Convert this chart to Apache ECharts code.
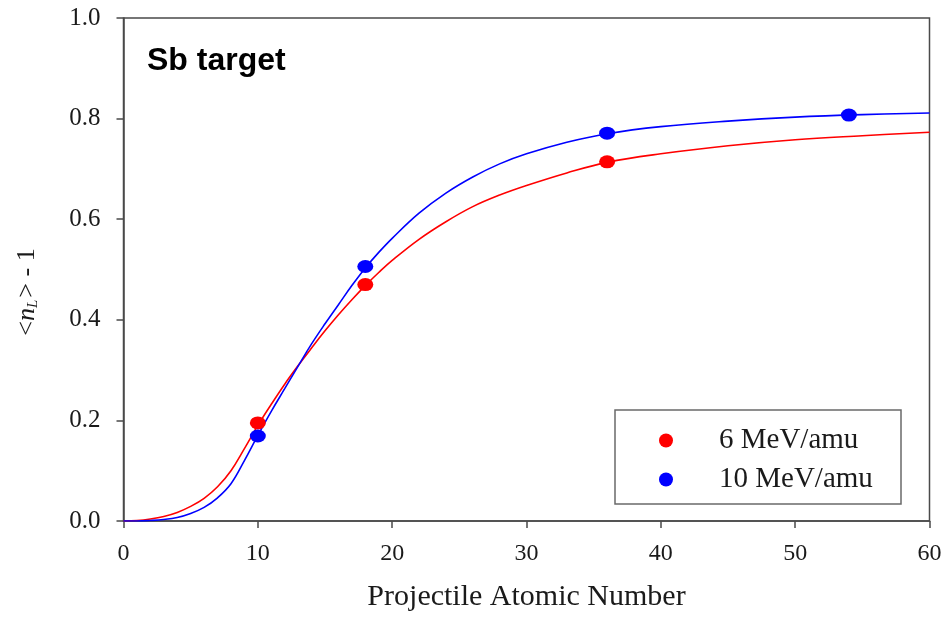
<!DOCTYPE html>
<html>
<head>
<meta charset="utf-8">
<script src="https://cdn.jsdelivr.net/npm/echarts@6/dist/echarts.min.js"></script>
<style>html,body{margin:0;padding:0;background:#fff;}#c{width:946px;height:617px;}</style>
</head>
<body>
<div id="c"></div>
<script>
// Data
var xTicks = [0, 10, 20, 30, 40, 50, 60];
var yTicks = [0.0, 0.2, 0.4, 0.6, 0.8, 1.0];
var seriesNames = ['6 MeV/amu', '10 MeV/amu'];
// measured points
var redZ = [10, 18, 36];
var redY = [0.195, 0.470, 0.714];
var blueZ = [10, 18, 36, 54];
var blueY = [0.169, 0.506, 0.771, 0.807];
// fitted curves
var fitZ = [0, 1, 2, 3, 4, 5, 6, 7, 8, 9, 10, 11, 12, 13, 14, 15, 16, 17, 18, 19, 20, 22, 24, 26, 28, 30, 33, 36, 40, 45, 50, 55, 60];
var redFit = [0, 0.001, 0.004, 0.009, 0.017, 0.029, 0.045, 0.068, 0.100, 0.144, 0.190, 0.232, 0.272, 0.309, 0.344, 0.378, 0.410, 0.440, 0.468, 0.494, 0.518, 0.560, 0.595, 0.625, 0.648, 0.667, 0.692, 0.713, 0.730, 0.746, 0.758, 0.766, 0.773];
var blueFit = [0, 0, 0.001, 0.003, 0.007, 0.015, 0.027, 0.046, 0.074, 0.120, 0.170, 0.218, 0.263, 0.308, 0.352, 0.392, 0.430, 0.468, 0.503, 0.534, 0.562, 0.612, 0.652, 0.684, 0.710, 0.730, 0.753, 0.770, 0.784, 0.795, 0.803, 0.808, 0.811];

function pairs(xs, ys) { return xs.map(function (x, i) { return [x, ys[i]]; }); }

var RED = '#ff0000', BLUE = '#0000ff';
var AX = '#4a4a4a';
var serif = '"Liberation Serif", "Times New Roman", serif';
var ellipse = 'path://M0,1a1,1 0 1,0 2,0a1,1 0 1,0 -2,0z';

var chart = echarts.init(document.getElementById('c'), null, {renderer: 'canvas'});
chart.setOption({
  animation: false,
  backgroundColor: '#fff',
  grid: {left: 123.5, right: 16.5, top: 18, bottom: 95, show: true, borderColor: AX, borderWidth: 1.5, backgroundColor: 'transparent'},
  xAxis: {
    type: 'value', min: xTicks[0], max: xTicks[xTicks.length - 1], interval: 10,
    axisLine: {show: true, lineStyle: {color: AX, width: 1.5}},
    axisTick: {show: true, inside: false, length: 7, lineStyle: {color: AX, width: 1.5}},
    splitLine: {show: false},
    axisLabel: {margin: 21, color: '#1a1a1a', fontFamily: serif, fontSize: 24},
    name: 'Projectile Atomic Number', nameLocation: 'middle', nameGap: 61,
    nameTextStyle: {color: '#1a1a1a', fontFamily: serif, fontSize: 30}
  },
  yAxis: {
    type: 'value', min: yTicks[0], max: yTicks[yTicks.length - 1], interval: 0.2,
    axisLine: {show: true, lineStyle: {color: AX, width: 1.5}},
    axisTick: {show: true, inside: false, length: 7, lineStyle: {color: AX, width: 1.5}},
    splitLine: {show: false},
    axisLabel: {margin: 23, color: '#1a1a1a', fontFamily: serif, fontSize: 25,
      formatter: function (v) { return v.toFixed(1); }}
  },
  legend: {
    data: seriesNames, orient: 'vertical', left: 659, top: 426, padding: 0,
    itemWidth: 16, itemHeight: 14, itemGap: 10, icon: ellipse,
    textStyle: {fontFamily: serif, fontSize: 29, color: '#1a1a1a', padding: [0, 0, 0, 40], lineHeight: 26}
  },
  graphic: [
    {type: 'rect', shape: {x: 615, y: 410, width: 286, height: 94}, style: {fill: '#fff', stroke: '#6a6a6a', lineWidth: 1.5}, z: 0, zlevel: 0, silent: true},
    {type: 'text', x: 147, y: 45, style: {text: 'Sb target', font: 'bold 32px "Liberation Sans", Arial, sans-serif', fill: '#000'}},
    {type: 'text', x: 27, y: 292, rotation: Math.PI / 2,
      style: {
        text: '{a|<}{i|n}{s|L}{a|> - 1}',
        align: 'center', verticalAlign: 'middle',
        rich: {
          a: {fontFamily: serif, fontSize: 26, fill: '#1a1a1a', color: '#1a1a1a'},
          i: {fontFamily: serif, fontSize: 26, fontStyle: 'italic', fill: '#1a1a1a', color: '#1a1a1a'},
          s: {fontFamily: serif, fontSize: 15, fontStyle: 'italic', fill: '#1a1a1a', color: '#1a1a1a', padding: [12, 2, 0, 0]}
        }
      }}
  ],
  series: [
    {name: 'fit6', type: 'line', data: pairs(fitZ, redFit), smooth: 0.4, showSymbol: false,
      lineStyle: {color: RED, width: 1.6}, itemStyle: {color: RED}, z: 3},
    {name: 'fit10', type: 'line', data: pairs(fitZ, blueFit), smooth: 0.4, showSymbol: false,
      lineStyle: {color: BLUE, width: 1.6}, itemStyle: {color: BLUE}, z: 3},
    {name: seriesNames[0], type: 'scatter', data: pairs(redZ, redY), symbol: ellipse, symbolSize: [16, 13],
      itemStyle: {color: RED, opacity: 1}, z: 5},
    {name: seriesNames[1], type: 'scatter', data: pairs(blueZ, blueY), symbol: ellipse, symbolSize: [16, 13],
      itemStyle: {color: BLUE, opacity: 1}, z: 5}
  ]
});
</script>
</body>
</html>
